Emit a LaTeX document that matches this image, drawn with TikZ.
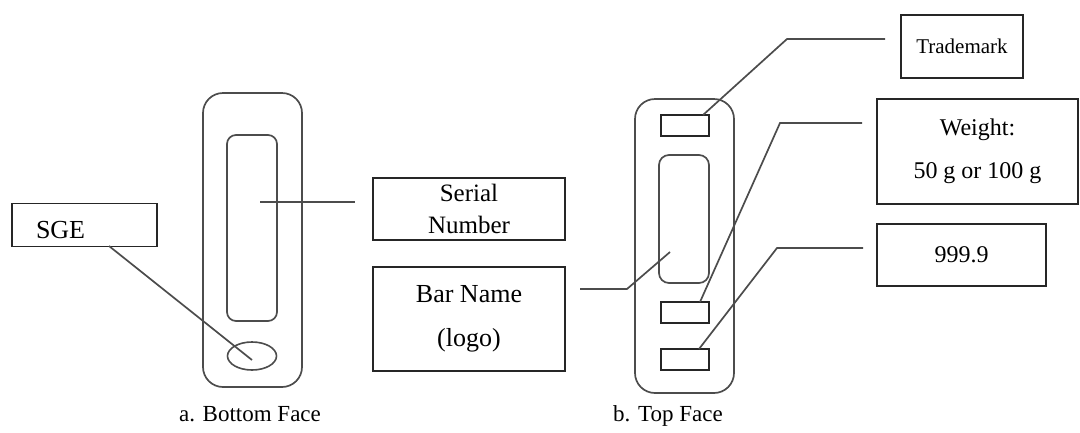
\documentclass[tikz,border=0pt]{standalone}
\usepackage{fontspec}
\setmainfont{Liberation Serif}
\usetikzlibrary{shapes.geometric}
\begin{document}
\begin{tikzpicture}[x=1pt,y=-1pt,
  plate/.style={draw=black!70, line width=1.7pt, rounded corners=20pt, inner sep=0pt},
  window/.style={draw=black!70, line width=1.7pt, rounded corners=9pt, inner sep=0pt},
  tag/.style={draw=black!85, line width=1.6pt, inner sep=0pt},
  label/.style={draw=black!85, line width=1.7pt, inner sep=0pt, align=center},
  lead/.style={draw=black!70, line width=1.7pt},
  caption/.style={inner sep=0pt, anchor=base, font=\fontsize{23}{27}\selectfont}]
\useasboundingbox (0,0) rectangle (1080,432);
% ---- bottom face ----
\node[plate, minimum width=99pt, minimum height=294pt] (bplate) at (252.5,240) {};
\node[window, minimum width=50pt, minimum height=186pt] (bwin) at (252,228) {};
\node[ellipse, draw=black!70, line width=1.6pt, inner sep=0pt, minimum width=49pt, minimum height=28pt] (bell) at (252,356) {};
% ---- top face ----
\node[plate, minimum width=99pt, minimum height=294pt] (tplate) at (684.5,246) {};
\node[window, rounded corners=10pt, minimum width=50pt, minimum height=128pt] (twin) at (684,219) {};
\node[tag, minimum width=48pt, minimum height=21pt] (ttop) at (685,125.5) {};
\node[tag, minimum width=48pt, minimum height=21pt] (tmid) at (685,312.5) {};
\node[tag, minimum width=48pt, minimum height=21pt] (tbot) at (685,359.5) {};
% ---- labels ----
\node[label, minimum width=145pt, minimum height=43pt, text width=97pt, align=left,
      text height=26pt, text depth=0pt, font=\fontsize{26}{30}\selectfont] (sge) at (84.5,225) {SGE};
\node[label, minimum width=192pt, minimum height=62pt, font=\fontsize{25}{32}\selectfont] (serial) at (469,209) {Serial\\Number};
\node[label, minimum width=192pt, minimum height=104pt, font=\fontsize{26}{44}\selectfont] (barname) at (469,319) {Bar Name\\(logo)};
\node[label, minimum width=122pt, minimum height=63pt, font=\fontsize{21}{25}\selectfont] (trade) at (962,46.5) {Trademark};
\node[label, minimum width=201pt, minimum height=105pt, font=\fontsize{24}{43}\selectfont] (weight) at (977.5,151.5) {Weight:\\50 g or 100 g};
\node[label, minimum width=169pt, minimum height=62pt, font=\fontsize{24}{28}\selectfont] (purity) at (961.5,255) {999.9};
% ---- leader line points ----
\coordinate (sgeA) at (109,246);
\coordinate (serA) at (260,202);
\coordinate (serB) at (355,202);
\coordinate (barA) at (580,289);
\coordinate (barB) at (627,289);
\coordinate (barC) at (670,252);
\coordinate (trA) at (703,115);
\coordinate (trB) at (787,39);
\coordinate (trC) at (885,39);
\coordinate (wA) at (700,302);
\coordinate (wB) at (780,123);
\coordinate (wC) at (862,123);
\coordinate (pA) at (699,349);
\coordinate (pB) at (777,248);
\coordinate (pC) at (863,248);
% ---- leader lines ----
\draw[lead] (sgeA) -- ([yshift=-4pt]bell.center);
\draw[lead] (serA) -- (serB);
\draw[lead] (barA) -- (barB) -- (barC);
\draw[lead] (trA) -- (trB) -- (trC);
\draw[lead] (wA) -- (wB) -- (wC);
\draw[lead] (pA) -- (pB) -- (pC);
% ---- captions ----
\node[caption] (capa) at (250,421) {a. Bottom Face};
\node[caption] (capb) at (668,421) {b. Top Face};
\end{tikzpicture}
\end{document}
